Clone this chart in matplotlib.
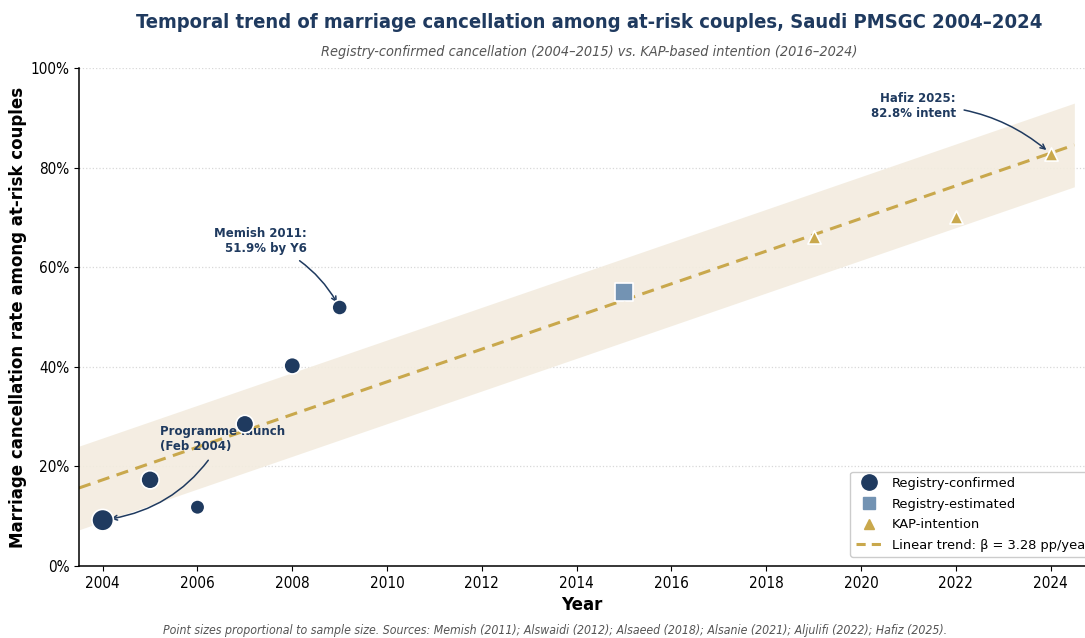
import numpy as np
import matplotlib.pyplot as plt
from matplotlib.lines import Line2D

# registry-confirmed cancellation rates (circles, size ~ sample size)
reg_years = [2004, 2005, 2006, 2007, 2008, 2009]
reg_rates = [9.2, 17.3, 11.8, 28.5, 40.2, 51.9]
reg_sizes = [240, 170, 110, 160, 140, 120]

# registry-estimated
est_years = [2015]
est_rates = [55.0]

# KAP-based intention
kap_years = [2019, 2022, 2024]
kap_rates = [66.1, 70.1, 82.8]

# linear trend
trend_slope = 3.28        # pp per year
trend_at_2004 = 17.3
band_half = 8.4

navy = '#1f3a5f'
steel = '#7393b3'
gold = '#c9a84c'
band_col = '#f3ecdf'

fig = plt.figure(figsize=(10.85, 6.38), dpi=100)
ax = fig.add_axes([0.0728, 0.1129, 0.927, 0.7806])

xs = np.linspace(2003.5, 2024.5, 50)
trend = trend_at_2004 + trend_slope * (xs - 2004)
ax.fill_between(xs, trend - band_half, trend + band_half, color=band_col, alpha=0.9,
                linewidth=0, zorder=1)
ax.plot(xs, trend, color=gold, linestyle=(0, (4, 2.5)), linewidth=2.2, zorder=2)

ax.scatter(reg_years, reg_rates, s=reg_sizes, color=navy, edgecolor='white',
           linewidth=1.2, zorder=4)
ax.scatter(est_years, est_rates, s=150, marker='s', color=steel, edgecolor='white',
           linewidth=1.2, zorder=4)
ax.scatter(kap_years, kap_rates, s=90, marker='^', color=gold, edgecolor='white',
           linewidth=1.2, zorder=4)

ax.set_xlim(2003.5, 2024.72)
ax.set_ylim(0, 100)
ax.set_xticks(range(2004, 2025, 2))
ax.set_yticks(range(0, 101, 20))
ax.set_yticklabels([f'{v}%' for v in range(0, 101, 20)])
ax.tick_params(labelsize=11)
for lab in ax.get_xticklabels() + ax.get_yticklabels():
    lab.set_fontstretch('condensed')
ax.grid(axis='y', linestyle=':', color='#d8d8d8', linewidth=0.9)
ax.set_axisbelow(True)
for s in ['top', 'right']:
    ax.spines[s].set_visible(False)
ax.spines['left'].set_linewidth(1.1)
ax.spines['bottom'].set_linewidth(1.1)

ax.set_xlabel('Year', fontsize=12, fontweight='bold', labelpad=4)
ax.set_ylabel('Marriage cancellation rate among at-risk couples', fontsize=12,
              fontweight='bold', labelpad=2)

arrow = dict(arrowstyle='->', color=navy, lw=1.1)
ax.annotate('Programme launch\n(Feb 2004)', xy=(2004, reg_rates[0]),
            xytext=(2005.2, 25.5), ha='left', va='center', fontsize=8.5,
            fontweight='bold', color=navy,
            arrowprops=dict(connectionstyle='arc3,rad=-0.25', shrinkA=4, shrinkB=6, **arrow))
ax.annotate('Memish 2011:\n51.9% by Y6', xy=(2009, reg_rates[5]),
            xytext=(2008.3, 65.3), ha='right', va='center', fontsize=8.5,
            fontweight='bold', color=navy,
            arrowprops=dict(connectionstyle='arc3,rad=-0.2', shrinkA=4, shrinkB=4, **arrow))
ax.annotate('Hafiz 2025:\n82.8% intent', xy=(2024, kap_rates[2]),
            xytext=(2022.0, 92.3), ha='right', va='center', fontsize=8.5,
            fontweight='bold', color=navy,
            arrowprops=dict(connectionstyle='arc3,rad=-0.2', shrinkA=4, shrinkB=4, **arrow))

handles = [
    Line2D([], [], marker='o', linestyle='', color=navy, markersize=11),
    Line2D([], [], marker='s', linestyle='', color=steel, markersize=8.5),
    Line2D([], [], marker='^', linestyle='', color=gold, markersize=6.5),
    Line2D([], [], linestyle=(0, (3, 2)), color=gold, linewidth=2.2),
]
labels = ['Registry-confirmed', 'Registry-estimated', 'KAP-intention',
          'Linear trend: β = 3.28 pp/year']
ax.legend(handles, labels, loc='lower left', bbox_to_anchor=(0.7605, 0.005),
          fontsize=9.4, labelspacing=0.58, frameon=True, edgecolor='#cccccc',
          framealpha=1)

fig.text(0.543, 0.965, 'Temporal trend of marriage cancellation among at-risk couples, Saudi PMSGC 2004–2024',
         ha='center', va='center', fontsize=14.5, fontweight='bold', color=navy,
         fontstretch='condensed')
fig.text(0.543, 0.918, 'Registry-confirmed cancellation (2004–2015) vs. KAP-based intention (2016–2024)',
         ha='center', va='center', fontsize=10.4, style='italic', color='#555555',
         fontstretch='condensed')
fig.text(0.5115, 0.011, 'Point sizes proportional to sample size. Sources: Memish (2011); Alswaidi (2012); '
         'Alsaeed (2018); Alsanie (2021); Aljulifi (2022); Hafiz (2025).',
         ha='center', va='center', fontsize=8.8, style='italic', color='#555555',
         fontstretch='condensed')

fig.savefig('out.png', dpi=100)
